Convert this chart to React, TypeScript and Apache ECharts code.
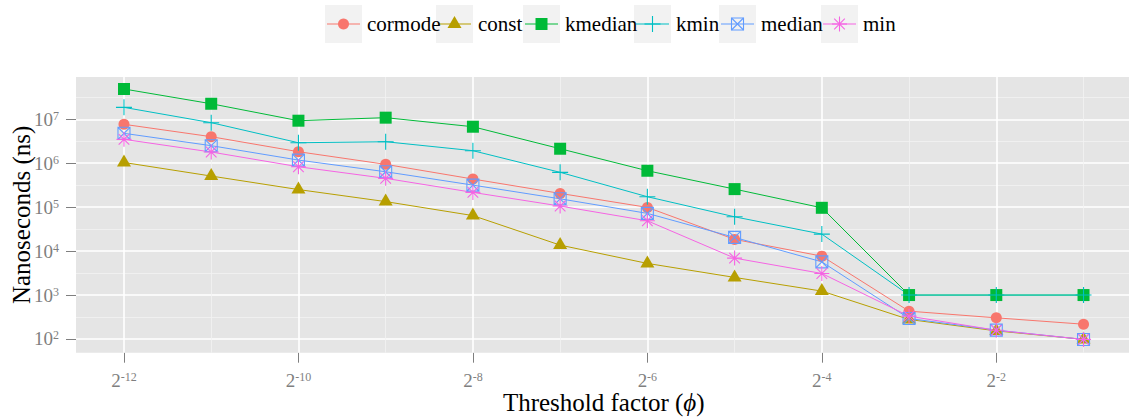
import React, { useEffect, useRef } from 'react';
import * as echarts from 'echarts';

// Threshold factor phi = 2^k, k below
const phiExponents = [-12, -11, -10, -9, -8, -7, -6, -5, -4, -3, -2, -1];
const labeledExponents = [-12, -10, -8, -6, -4, -2];
const minorExponents = [-11, -9, -7, -5, -3, -1];
// Nanosecond axis: decades (log10) carrying labels, and half-decade minor lines
const decadeTicks = [2, 3, 4, 5, 6, 7];
const halfDecades = [2.5, 3.5, 4.5, 5.5, 6.5, 7.5];

// Running time in nanoseconds per algorithm
const cormode = [7.69e6, 4.02e6, 1.83e6, 9.44e5, 4.37e5, 2.06e5, 9.89e4, 1.85e4, 7.69e3, 430, 303, 217];
const constNs = [1.04e6, 5.11e5, 2.52e5, 1.34e5, 6.44e4, 1.37e4, 5250, 2520, 1230, 278, 153, 98];
const kmedian = [4.9e7, 2.26e7, 9.3e6, 1.09e7, 6.78e6, 2.14e6, 6.75e5, 2.58e5, 9.68e4, 1000, 1000, 1000];
const kmin = [1.87e7, 8.38e6, 2.93e6, 3.09e6, 1.93e6, 6.21e5, 1.73e5, 6.04e4, 2.44e4, 1000, 1000, 1000];
const median = [4.8e6, 2.51e6, 1.18e6, 6.4e5, 3.18e5, 1.55e5, 7.23e4, 2.05e4, 5.7e3, 293, 159, 97.5];
const minNs = [3.5e6, 1.8e6, 8.32e5, 4.53e5, 2.17e5, 1.06e5, 4.9e4, 6.93e3, 3.1e3, 331, 158, 98];

const seriesNames = ['cormode', 'const', 'kmedian', 'kmin', 'median', 'min'];
const seriesValues = [cormode, constNs, kmedian, kmin, median, minNs];

const FONT = '"Liberation Serif", "DejaVu Serif", serif';
const COLORS = ['#F8766D', '#B79F00', '#00BA38', '#00BFC4', '#619CFF', '#F564E3'];
const SHAPES = ['circle', 'triangle', 'square', 'plus', 'squareCross', 'asterisk'];

type SymbolSpec = { symbol: string; size: number | number[]; filled: boolean; offset?: number[] };
const SYMBOLS: Record<string, SymbolSpec> = {
  circle: { symbol: 'circle', size: 11, filled: true },
  triangle: { symbol: 'triangle', size: [14, 12], filled: true, offset: [0, -2] },
  square: { symbol: 'rect', size: 12, filled: true },
  plus: { symbol: 'path://M0,5L10,5M5,0L5,10', size: 16, filled: false },
  squareCross: { symbol: 'path://M0,0L10,0L10,10L0,10ZM0,0L10,10M10,0L0,10', size: 12, filled: false },
  asterisk: {
    symbol: 'path://M5,0L5,10M0,5L10,5M1.46,1.46L8.54,8.54M8.54,1.46L1.46,8.54',
    size: 15,
    filled: false,
  },
};

// legend key boxes (left edge of each key)
const LEGEND_KEY_X = [325, 436, 523, 634, 719, 821];
const KEY_W = 37;
const KEY_H = 38;
const KEY_TOP = 5;

function legendMarker(shape: string, cx: number, cy: number, color: string): any[] {
  const stroke = { stroke: color, lineWidth: 1.1, fill: 'none' };
  switch (shape) {
    case 'circle':
      return [{ type: 'circle', shape: { cx, cy, r: 5.5 }, style: { fill: color } }];
    case 'triangle':
      return [
        {
          type: 'polygon',
          shape: { points: [[cx, cy - 8], [cx + 7, cy + 4], [cx - 7, cy + 4]] },
          style: { fill: color },
        },
      ];
    case 'square':
      return [{ type: 'rect', shape: { x: cx - 6, y: cy - 6, width: 12, height: 12 }, style: { fill: color } }];
    case 'plus':
      return [
        { type: 'line', shape: { x1: cx - 8, y1: cy, x2: cx + 8, y2: cy }, style: stroke },
        { type: 'line', shape: { x1: cx, y1: cy - 8, x2: cx, y2: cy + 8 }, style: stroke },
      ];
    case 'squareCross':
      return [
        { type: 'rect', shape: { x: cx - 6, y: cy - 6, width: 12, height: 12 }, style: stroke },
        { type: 'line', shape: { x1: cx - 6, y1: cy - 6, x2: cx + 6, y2: cy + 6 }, style: stroke },
        { type: 'line', shape: { x1: cx + 6, y1: cy - 6, x2: cx - 6, y2: cy + 6 }, style: stroke },
      ];
    default: {
      const d = 5.3;
      return [
        { type: 'line', shape: { x1: cx - 7.5, y1: cy, x2: cx + 7.5, y2: cy }, style: stroke },
        { type: 'line', shape: { x1: cx, y1: cy - 7.5, x2: cx, y2: cy + 7.5 }, style: stroke },
        { type: 'line', shape: { x1: cx - d, y1: cy - d, x2: cx + d, y2: cy + d }, style: stroke },
        { type: 'line', shape: { x1: cx + d, y1: cy - d, x2: cx - d, y2: cy + d }, style: stroke },
      ];
    }
  }
}

// grey key boxes with the line + marker glyph of each series
function buildLegendKeys(): any[] {
  return seriesNames.map((name, i) => {
    const x = LEGEND_KEY_X[i];
    const cy = KEY_TOP + KEY_H / 2;
    const cx = x + KEY_W / 2;
    return {
      type: 'group',
      children: [
        { type: 'rect', shape: { x, y: KEY_TOP, width: KEY_W, height: KEY_H }, style: { fill: '#F2F2F2' } },
        {
          type: 'line',
          shape: { x1: x + 2, y1: cy, x2: x + KEY_W - 2, y2: cy },
          style: { stroke: COLORS[i], lineWidth: 1 },
        },
        ...legendMarker(SHAPES[i], cx, cy, COLORS[i]),
      ],
    };
  });
}

const legendText = {
  fontFamily: FONT,
  fontSize: 21,
  fontWeight: 'normal',
  color: '#000',
};

// one legend component per series, carrying only the series name next to its key
function buildLegendLabels(): any[] {
  return seriesNames.map((name, i) => ({
    show: true,
    data: [name],
    left: LEGEND_KEY_X[i] + KEY_W,
    top: KEY_TOP,
    padding: 0,
    itemGap: 0,
    itemWidth: 0,
    itemHeight: KEY_H,
    icon: 'none',
    itemStyle: { opacity: 0 },
    lineStyle: { opacity: 0 },
    selectedMode: false,
    formatter: (n: string) => `{t|${n}}`,
    textStyle: { ...legendText, rich: { t: { ...legendText } } },
  }));
}

function buildOption(): any {
  const gridLines = [
    ...decadeTicks.map((v) => ({ yAxis: v, lineStyle: { color: '#FFFFFF', width: 1.6, type: 'solid' } })),
    ...halfDecades.map((v) => ({ yAxis: v, lineStyle: { color: '#F2F2F2', width: 0.8, type: 'solid' } })),
    ...labeledExponents.map((v) => ({ xAxis: v, lineStyle: { color: '#FFFFFF', width: 1.6, type: 'solid' } })),
    ...minorExponents.map((v) => ({ xAxis: v, lineStyle: { color: '#F2F2F2', width: 0.8, type: 'solid' } })),
  ];

  const lineSeries = seriesNames.map((name, i) => ({
    name,
    type: 'line',
    z: 2,
    showSymbol: false,
    symbol: 'none',
    silent: true,
    lineStyle: { color: COLORS[i], width: 1 },
    data: phiExponents.map((k, j) => [k, Math.log10(seriesValues[i][j])]),
  }));

  const pointSeries = seriesNames.map((name, i) => {
    const spec = SYMBOLS[SHAPES[i]];
    return {
      name,
      type: 'scatter',
      z: 3,
      silent: true,
      symbol: spec.symbol,
      symbolSize: spec.size,
      symbolOffset: spec.offset || [0, 0],
      itemStyle: spec.filled
        ? { color: COLORS[i], opacity: 1 }
        : { color: 'rgba(0,0,0,0)', borderColor: COLORS[i], borderWidth: 1.1, opacity: 1 },
      data: phiExponents.map((k, j) => [k, Math.log10(seriesValues[i][j])]),
    };
  });

  const tickLabel = {
    margin: 18,
    color: '#7F7F7F',
    fontFamily: FONT,
    fontSize: 19,
    lineHeight: 19,
    rich: { sup: { fontFamily: FONT, fontSize: 12, lineHeight: 12, color: '#7F7F7F', verticalAlign: 'top' } },
  };

  return {
    animation: false,
    backgroundColor: '#FFFFFF',
    textStyle: { fontFamily: FONT },
    legend: buildLegendLabels(),
    grid: {
      left: 76,
      top: 77,
      right: -2.5,
      bottom: 66.3,
      containLabel: false,
      outerBoundsMode: 'none',
      show: true,
      backgroundColor: '#E5E5E5',
      borderWidth: 0,
    },
    xAxis: {
      type: 'value',
      min: -12.55,
      max: -0.45,
      name: 'Threshold factor ({phi|ϕ})',
      nameLocation: 'middle',
      nameGap: 37,
      nameMoveOverlap: false,
      nameTextStyle: {
        fontFamily: FONT,
        fontSize: 25,
        color: '#000',
        rich: { phi: { fontFamily: FONT, fontSize: 25, fontStyle: 'italic', color: '#000' } },
      },
      axisLine: { show: false },
      splitLine: { show: false },
      axisTick: { show: true, length: 10, customValues: labeledExponents, lineStyle: { color: '#7F7F7F', width: 1 } },
      axisLabel: {
        ...tickLabel,
        customValues: labeledExponents,
        formatter: (v: number) => `2{sup|${v}}`,
      },
    },
    yAxis: {
      type: 'value',
      min: 1.688,
      max: 7.963,
      name: 'Nanoseconds (ns)',
      nameLocation: 'middle',
      nameGap: 42,
      nameMoveOverlap: false,
      nameTextStyle: { fontFamily: FONT, fontSize: 25, color: '#000' },
      axisLine: { show: false },
      splitLine: { show: false },
      axisTick: { show: true, length: 10, customValues: decadeTicks, lineStyle: { color: '#7F7F7F', width: 1 } },
      axisLabel: {
        ...tickLabel,
        margin: 17,
        customValues: decadeTicks,
        formatter: (v: number) => `10{sup|${v}}`,
      },
    },
    graphic: buildLegendKeys(),
    series: [
      {
        name: 'grid-lines',
        type: 'line',
        z: 1,
        silent: true,
        data: [],
        markLine: {
          z: 1,
          silent: true,
          symbol: ['none', 'none'],
          label: { show: false },
          emphasis: { disabled: true },
          data: gridLines,
        },
      },
      ...lineSeries,
      ...pointSeries,
    ],
  };
}

export default function App() {
  const ref = useRef<HTMLDivElement>(null);
  useEffect(() => {
    if (!ref.current) return;
    const chart = echarts.init(ref.current, null, { renderer: 'svg' });
    chart.setOption(buildOption());
    return () => chart.dispose();
  }, []);
  return (
    <div
      ref={ref}
      style={{ position: 'absolute', left: 0, top: 0, width: 1129, height: 419, background: '#fff' }}
    />
  );
}
